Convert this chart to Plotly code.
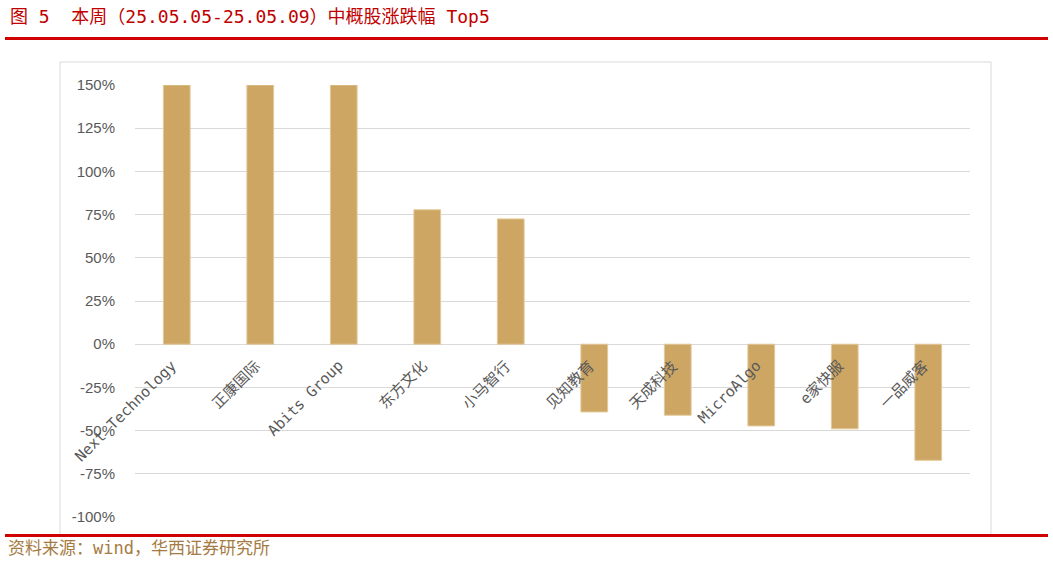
import plotly.graph_objects as go

categories = ["Next Technology", "正康国际", "Abits Group", "东方文化", "小马智行",
              "见知教育", "天成科技", "MicroAlgo", "e家快服", "一品威客"]
values = [150.0, 150.0, 150.0, 77.8, 72.5, -39.2, -41.1, -47.3, -49.0, -67.2]
y_ticks = [-100, -75, -50, -25, 0, 25, 50, 75, 100, 125, 150]
y_tick_text = [f"{v}%" for v in y_ticks]

title_text = "图 5  本周（25.05.05-25.05.09）中概股涨跌幅 Top5"
source_text = "资料来源：wind，华西证券研究所"

W, H = 1053, 562
L, R, T, B = 135, 970, 85, 517

def px_x(x):
    return (x - L) / (R - L)

def px_y(y):
    return (B - y) / (B - T)

mono_cjk = "DejaVu Sans Mono, Noto Sans CJK SC"
bar_color = "#CDA664"
fig = go.Figure()
fig.add_trace(go.Bar(
    x=categories, y=values,
    marker=dict(color=bar_color, line=dict(color="#E2C99A", width=1)),
    width=0.32,
))

annotations = []
for c in categories:
    annotations.append(dict(
        x=c, y=0, xref="x", yref="y", text=c, showarrow=False,
        textangle=-45, xanchor="right", yanchor="top", xshift=6, yshift=-10,
        font=dict(family=mono_cjk, size=15, color="#595959"),
    ))
annotations.append(dict(
    x=px_x(8), y=px_y(17), xref="paper", yref="paper", text=title_text, showarrow=False,
    xanchor="left", yanchor="middle",
    font=dict(family=mono_cjk, size=18, color="#C00000"),
))
annotations.append(dict(
    x=px_x(6), y=px_y(548), xref="paper", yref="paper", text=source_text, showarrow=False,
    xanchor="left", yanchor="middle",
    font=dict(family=mono_cjk, size=17, color="#A57B43"),
))

shapes = [
    dict(type="rect", xref="paper", yref="paper", x0=px_x(60), x1=px_x(991), y0=px_y(535), y1=px_y(62),
         line=dict(color="#D9D9D9", width=1), layer="below"),
    dict(type="line", xref="paper", yref="paper", x0=px_x(5), x1=px_x(1048), y0=px_y(38.5), y1=px_y(38.5),
         line=dict(color="#D00000", width=3)),
    dict(type="line", xref="paper", yref="paper", x0=px_x(5), x1=px_x(1048), y0=px_y(535.5), y1=px_y(535.5),
         line=dict(color="#D00000", width=3)),
]

fig.update_layout(
    width=W, height=H,
    margin=dict(l=L, r=W - R, t=T, b=H - B, pad=0),
    paper_bgcolor="white", plot_bgcolor="white",
    showlegend=False,
    annotations=annotations, shapes=shapes,
    xaxis=dict(showticklabels=False, showgrid=False, showline=False, ticks="",
               range=[-0.5, len(categories) - 0.5]),
    yaxis=dict(range=[-100, 150], tickvals=y_ticks, ticktext=y_tick_text,
               showgrid=True, gridcolor="#D9D9D9", gridwidth=1, zeroline=False,
               tickfont=dict(family="Liberation Sans", size=15, color="#595959"),
               ticks="outside", ticklen=16, tickcolor="rgba(0,0,0,0)"),
)

fig.write_html("out.html",
               config={"displayModeBar": False},
               post_script="document.body.style.margin='0';document.body.style.overflow='hidden';")
